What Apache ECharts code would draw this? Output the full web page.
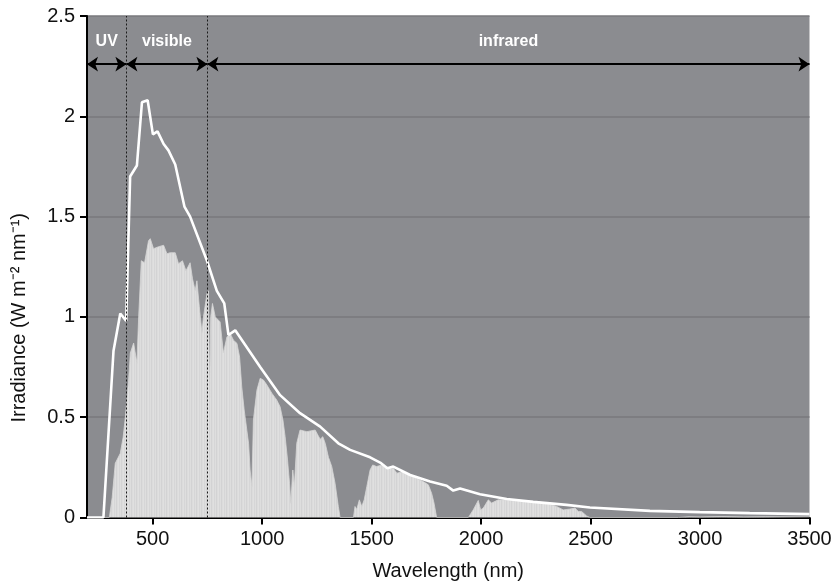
<!DOCTYPE html>
<html><head><meta charset="utf-8">
<script src="https://cdn.jsdelivr.net/npm/echarts@6/dist/echarts.min.js"></script>
<style>html,body{margin:0;padding:0;background:#fff}#c{width:832px;height:587px}</style>
</head><body><div id="c"></div>
<script>
// Extraterrestrial (top of atmosphere) irradiance – white line
const topWavelength = [200,275,321,352,379,397,428,451,477,501,522,550,572,603,645,671,748,793,827,846,877,991,1082,1173,1265,1348,1402,1493,1539,1572,1599,1676,1767,1843,1873,1904,1995,2117,2238,2390,2497,2771,2999,3227,3500];
const topIrradiance = [0,0,0.83,1.017,0.98,1.70,1.755,2.07,2.08,1.91,1.925,1.862,1.83,1.76,1.55,1.50,1.28,1.13,1.067,0.91,0.933,0.75,0.61,0.52,0.453,0.37,0.337,0.30,0.274,0.246,0.254,0.212,0.179,0.158,0.134,0.144,0.116,0.092,0.078,0.063,0.05,0.033,0.027,0.022,0.017];

// Surface irradiance – light grey filled area
const surfWavelength = [200,302,315,329,352,365,375,385,390,398,413,428,436,448,463,481,489,504,527,550,565,580,603,618,636,652,671,682,694,702,713,725,732,748,755,760,765,773,786,808,823,839,854,869,885,897,907,918,930,938,945,953,960,976,991,1006,1022,1044,1067,1082,1095,1105,1116,1125,1131,1140,1147,1158,1173,1204,1242,1265,1277,1288,1303,1318,1333,1348,1356,1417,1424,1432,1444,1455,1466,1478,1493,1505,1523,1546,1569,1599,1615,1645,1676,1706,1736,1759,1774,1785,1797,1942,1964,1987,1998,2010,2033,2048,2078,2117,2178,2238,2299,2345,2375,2406,2429,2444,2459,2482,2497,2900,2950,3000,3100,3200,3300,3500];
const surfIrradiance = [0,0,0.1,0.27,0.32,0.40,0.50,0.62,0.685,0.82,0.87,0.77,1.0,1.28,1.27,1.38,1.39,1.34,1.35,1.357,1.315,1.32,1.32,1.265,1.28,1.23,1.27,1.19,1.13,1.18,1.05,0.92,1.0,1.117,1.13,0.6,1.0,1.067,1.0,0.975,0.82,0.90,0.917,0.884,0.868,0.80,0.65,0.536,0.436,0.37,0.237,0.154,0.486,0.635,0.694,0.685,0.66,0.62,0.585,0.552,0.486,0.403,0.287,0.171,0.072,0.237,0.154,0.37,0.436,0.428,0.436,0.39,0.403,0.37,0.30,0.254,0.171,0.055,0,0,0.055,0.04,0.088,0.055,0.088,0.154,0.237,0.262,0.254,0.262,0.246,0.246,0.221,0.229,0.212,0.196,0.179,0.163,0.121,0.072,0,0,0.038,0.085,0.038,0.047,0.088,0.072,0.088,0.088,0.085,0.08,0.072,0.055,0.038,0.042,0.047,0.03,0.03,0.008,0,0,0.004,0.003,0.005,0.003,0.004,0.003];

const xTicks = [500,1000,1500,2000,2500,3000,3500];
const bandNames = ['UV','visible','infrared'];
const bandEdges = [200,380,750,3500];
const arrowLevel = 2.26;

const zip = (a,b) => a.map((v,i)=>[v,b[i]]);
const font = 'Liberation Sans, Arial, Helvetica, sans-serif';

// fine vertical stripe texture for the surface fill
const pat = document.createElement('canvas');
pat.width = 5; pat.height = 4;
const pctx = pat.getContext('2d');
['#dedede','#d3d3d4','#dcdcdc','#e0e0e0','#d6d6d7'].forEach((c,i)=>{pctx.fillStyle=c;pctx.fillRect(i,0,1,4);});

const bandLines = bandNames.map((n,i)=>[
  {coord:[bandEdges[i],arrowLevel], name:n},
  {coord:[bandEdges[i+1],arrowLevel]}
]);
const dividers = bandEdges.slice(1,-1).map(v=>({xAxis:v}));

const chart = echarts.init(document.getElementById('c'), null, {renderer:'canvas'});
chart.setOption({
  animation:false,
  grid:{left:87,right:22.5,top:16,bottom:69.5,show:true,backgroundColor:'#8b8c90',borderWidth:0,outerBoundsMode:'none',containLabel:false},
  xAxis:{
    type:'value',min:200,max:3500,
    name:'Wavelength (nm)',nameLocation:'middle',nameGap:44,
    nameTextStyle:{fontFamily:font,fontSize:20,color:'#111'},
    axisLine:{show:true,onZero:false,lineStyle:{color:'#000',width:2}},
    axisTick:{show:true,length:7,lineStyle:{color:'#000',width:2},customValues:xTicks},
    axisLabel:{fontFamily:font,fontSize:20,color:'#111',margin:12,customValues:xTicks,formatter:v=>String(v)},
    splitLine:{show:false}
  },
  yAxis:{
    type:'value',min:0,max:2.5,interval:0.5,
    name:'Irradiance (W m\u207B\u00B2 nm\u207B\u00B9)',nameLocation:'middle',nameGap:58,nameRotate:90,
    nameTextStyle:{fontFamily:font,fontSize:20,color:'#111',padding:[0,102,0,0]},
    axisLine:{show:true,lineStyle:{color:'#000',width:2}},
    axisTick:{show:true,length:7,lineStyle:{color:'#000',width:2}},
    axisLabel:{fontFamily:font,fontSize:20,color:'#111',margin:12},
    splitLine:{show:true,lineStyle:{color:'#78797d',width:1.5}}
  },
  series:[
    {
      type:'line',data:zip(surfWavelength,surfIrradiance),symbol:'none',
      lineStyle:{width:0.8,color:'#d6d6d6'},areaStyle:{color:{image:pat,repeat:'repeat'},opacity:1},z:2
    },
    {
      type:'line',data:zip(topWavelength,topIrradiance),symbol:'none',
      lineStyle:{width:2.6,color:'#ffffff'},z:4,
      markLine:{
        silent:true,symbol:['arrow','arrow'],symbolSize:11,
        lineStyle:{color:'#000',width:2,type:'solid'},
        label:{show:true,position:'middle',formatter:'{b}',color:'#fff',fontWeight:'bold',fontSize:16,fontFamily:font,distance:15},
        data:bandLines
      }
    },
    {
      type:'line',data:[],symbol:'none',z:3,
      markLine:{
        silent:true,symbol:'none',
        lineStyle:{color:'#1a1a1a',width:1,type:[2,2]},
        label:{show:false},
        data:dividers
      }
    }
  ]
});
</script></body></html>
